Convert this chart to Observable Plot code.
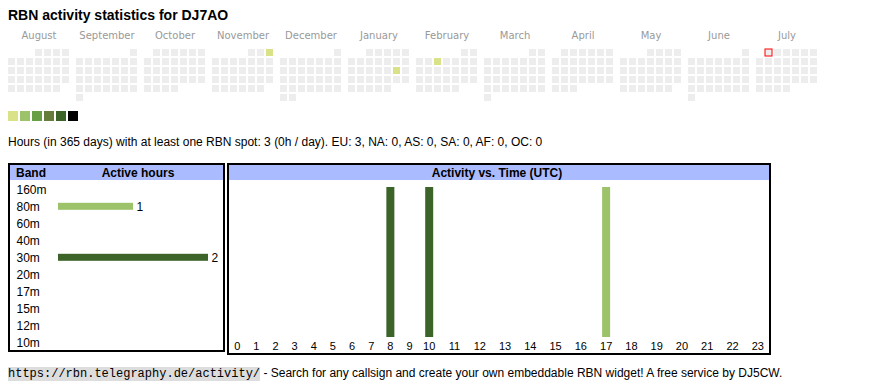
<!DOCTYPE html>
<html><head><meta charset="utf-8">
<script src="https://cdn.jsdelivr.net/npm/d3@7"></script>
<script src="https://cdn.jsdelivr.net/npm/@observablehq/plot@0.6"></script>
<style>
html,body{margin:0;padding:0;background:#fff;}
#page{position:relative;width:870px;height:390px;overflow:hidden;font-family:Arial,"Liberation Sans",sans-serif;color:#000;}
.abs{position:absolute;white-space:nowrap;}
#page svg{position:absolute;left:0;top:0;overflow:visible;}
.panel{position:absolute;box-sizing:border-box;border:2px solid #000;}
.head{position:absolute;left:0;right:0;top:0;height:15px;background:#aabbff;}
.ht{position:absolute;top:1px;font-weight:bold;font-size:12px;line-height:14px;white-space:nowrap;}
.url{font-family:"Liberation Mono","Courier New",monospace;font-size:12px;background:#dddddd;}
</style></head>
<body><div id="page">
<div class="abs" style="left:8px;top:8px;font-size:14px;font-weight:bold;line-height:14px;">RBN activity statistics for DJ7AO</div>
<div class="abs" style="left:8px;top:135px;font-size:12px;line-height:14px;">Hours (in 365 days) with at least one RBN spot: 3 (0h / day). EU: 3, NA: 0, AS: 0, SA: 0, AF: 0, OC: 0</div>
<div class="panel" style="left:8px;top:163px;width:217px;height:189px;">
  <div class="head"></div>
  <div class="ht" style="left:6px;">Band</div>
  <div class="ht" style="left:68px;width:120px;text-align:center;">Active hours</div>
</div>
<div class="panel" style="left:227px;top:163px;width:544px;height:192px;">
  <div class="head"></div>
  <div class="ht" style="left:168px;width:200px;text-align:center;">Activity vs. Time (UTC)</div>
</div>
<div class="abs" style="left:8px;top:366px;font-size:12px;line-height:14px;"><span class="url">https://rbn.telegraphy.de/activity/</span> - Search for any callsign and create your own embeddable RBN widget! A free service by DJ5CW.</div>
</div>
<script>
// ---- data ----
const months = ["August","September","October","November","December","January","February","March","April","May","June","July"];
const calendarStart = "2024-08-01";
const calendarEnd = "2025-08-01"; // exclusive
const today = "2025-07-01";
const activeDays = ["2024-11-03","2025-01-18","2025-02-05"];
const activeDayHours = [1, 1, 1];
const legendColors = ["#dae289","#9cc26a","#67a044","#657c3a","#3c6428","#000000"];
const emptyColor = "#ededed";

const bands = ["160m","80m","60m","40m","30m","20m","17m","15m","12m","10m"];
const bandActiveHours = [0, 1, 0, 0, 2, 0, 0, 0, 0, 0];
const bandColors = {"80m": "#9cc26a", "30m": "#3c6428"};

const hours = [0,1,2,3,4,5,6,7,8,9,10,11,12,13,14,15,16,17,18,19,20,21,22,23];
const activeHourSlots = [8, 10, 17];
const activeHourBands = ["30m", "30m", "80m"];
const activeHourCounts = [1, 1, 1];

// ---- derived tables ----
const hoursByDay = new Map(activeDays.map((d, i) => [d, activeDayHours[i]]));
const parse = d3.utcParse("%Y-%m-%d");
const fmt = d3.utcFormat("%Y-%m-%d");
const days = d3.utcDay.range(parse(calendarStart), parse(calendarEnd)).map(date => {
  const first = new Date(Date.UTC(date.getUTCFullYear(), date.getUTCMonth(), 1));
  const firstCol = (first.getUTCDay() + 6) % 7;
  const col = (date.getUTCDay() + 6) % 7 + 1;
  const row = Math.floor((date.getUTCDate() - 1 + firstCol) / 7);
  const key = fmt(date);
  const h = hoursByDay.get(key) || 0;
  return {
    key,
    month: months[(date.getUTCMonth() + 5) % 12],
    col, row,
    color: h > 0 ? legendColors[Math.min(h, legendColors.length) - 1] : emptyColor
  };
});
const bandRows = bands.map((b, i) => ({band: b, hours: bandActiveHours[i], color: bandColors[b] || "#999"}));
const hourRows = activeHourSlots.map((h, i) => ({hour: h, band: activeHourBands[i], count: activeHourCounts[i], color: bandColors[activeHourBands[i]]}));

const page = document.getElementById("page");

// calendar heatmap
const cal = Plot.plot({
  width: 870, height: 105,
  marginLeft: 8, marginRight: 53, marginTop: 49, marginBottom: 4,
  fx: {domain: months, paddingInner: 7/68, paddingOuter: 0, round: false, axis: null},
  x: {domain: [1,2,3,4,5,6,7], paddingInner: 2/9, paddingOuter: 0, round: false, axis: null},
  y: {domain: [0,1,2,3,4,5], paddingInner: 2/9, paddingOuter: 0, round: false, axis: null},
  style: {fontFamily: "'DejaVu Sans', Verdana, sans-serif", fontSize: "10px"},
  marks: [
    Plot.cell(days, {fx: "month", x: "col", y: "row", fill: "color"}),
    Plot.cell(days.filter(d => d.key === today), {fx: "month", x: "col", y: "row", fill: "none", stroke: "#ff0000", strokeWidth: 1}),
    Plot.text(months, {fx: d => d, text: d => d, frameAnchor: "top", lineAnchor: "bottom", dy: -10.3, fill: "#999999"})
  ]
});
page.appendChild(cal);

// legend
const legend = Plot.plot({
  width: 90, height: 125,
  marginLeft: 8, marginRight: 12, marginTop: 111, marginBottom: 4,
  x: {domain: d3.range(legendColors.length), paddingInner: 2/12, paddingOuter: 0, round: false, axis: null},
  marks: [Plot.cell(legendColors, {x: (d, i) => i, fill: d => d})]
});
page.appendChild(legend);

// active hours per band
const bandPlot = Plot.plot({
  width: 230, height: 360,
  marginLeft: 58, marginRight: 22, marginTop: 180.8, marginBottom: 9.2,
  x: {domain: [0, d3.max(bandActiveHours)], axis: null},
  y: {domain: bands, padding: 0, round: false, axis: null},
  style: {fontFamily: "Arial, 'Liberation Sans', sans-serif", fontSize: "12px"},
  marks: [
    Plot.barX(bandRows.filter(d => d.hours > 0), {x: "hours", y: "band", fill: "color", insetTop: 5, insetBottom: 5}),
    Plot.text(bandRows, {y: "band", text: "band", frameAnchor: "left", textAnchor: "start", dx: -42, fill: "#000"}),
    Plot.text(bandRows.filter(d => d.hours > 0), {x: "hours", y: "band", text: d => String(d.hours), textAnchor: "start", dx: 3, fill: "#000"})
  ]
});
page.appendChild(bandPlot);

// activity vs time
const hourPlot = Plot.plot({
  width: 780, height: 360,
  marginLeft: 0, marginRight: 0, marginTop: 187, marginBottom: 23,
  x: {type: "linear", domain: [0, 9, 10, 23], range: [236.7, 409, 428.7, 757.3], axis: null},
  y: {domain: [0, d3.max(activeHourCounts)], axis: null},
  style: {fontFamily: "Arial, 'Liberation Sans', sans-serif", fontSize: "11px"},
  marks: [
    Plot.ruleX(hourRows, {x: "hour", y1: 0, y2: "count", stroke: "color", strokeWidth: 8}),
    Plot.text(hours, {x: d => d, text: d => String(d), frameAnchor: "bottom", lineAnchor: "top", dy: 4.7, fill: "#000"})
  ]
});
page.appendChild(hourPlot);
</script>
</body></html>
